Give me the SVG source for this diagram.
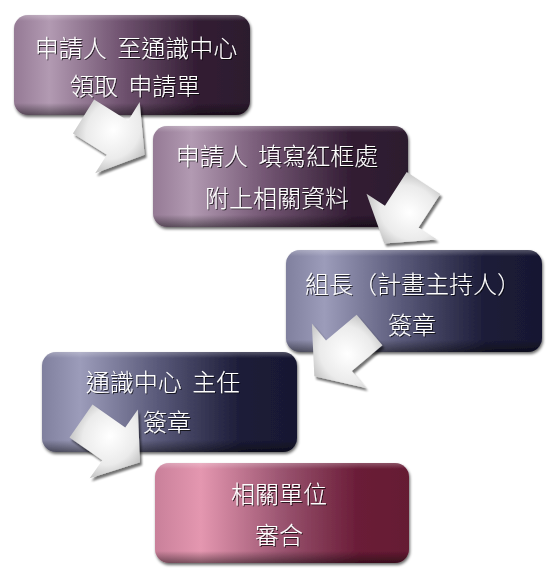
<svg xmlns="http://www.w3.org/2000/svg" width="550" height="583" viewBox="0 0 550 583">
<defs>
<linearGradient id="gPurple" x1="0" y1="0" x2="1" y2="0">
<stop offset="0" stop-color="#957a95"/>
<stop offset="0.15" stop-color="#b29ab2"/>
<stop offset="0.45" stop-color="#715471"/>
<stop offset="0.78" stop-color="#321c33"/>
<stop offset="1" stop-color="#2c1a2e"/>
</linearGradient>
<linearGradient id="gBlue" x1="0" y1="0" x2="1" y2="0">
<stop offset="0" stop-color="#80809e"/>
<stop offset="0.15" stop-color="#9c9cba"/>
<stop offset="0.45" stop-color="#5a5a7a"/>
<stop offset="0.78" stop-color="#1c1c38"/>
<stop offset="1" stop-color="#181832"/>
</linearGradient>
<linearGradient id="gPink" x1="0" y1="0" x2="1" y2="0">
<stop offset="0" stop-color="#c9809a"/>
<stop offset="0.18" stop-color="#e497b0"/>
<stop offset="0.5" stop-color="#9a5470"/>
<stop offset="0.8" stop-color="#6a1c37"/>
<stop offset="1" stop-color="#651a33"/>
</linearGradient>
<linearGradient id="gBevel" x1="0" y1="0" x2="0" y2="1">
<stop offset="0" stop-color="#ffffff" stop-opacity="0.25"/>
<stop offset="0.06" stop-color="#ffffff" stop-opacity="0"/>
<stop offset="0.88" stop-color="#000000" stop-opacity="0"/>
<stop offset="1" stop-color="#000000" stop-opacity="0.45"/>
</linearGradient>
<radialGradient id="gArrow" cx="0.45" cy="0.45" r="0.6">
<stop offset="0" stop-color="#ffffff"/>
<stop offset="0.6" stop-color="#ebebeb"/>
<stop offset="1" stop-color="#b8b8b8"/>
</radialGradient>
<filter id="boxShadow" x="-10%" y="-10%" width="120%" height="130%">
<feGaussianBlur in="SourceAlpha" stdDeviation="1.5"/>
<feOffset dx="1" dy="2" result="b"/>
<feComponentTransfer><feFuncA type="linear" slope="0.6"/></feComponentTransfer>
<feMerge><feMergeNode/><feMergeNode in="SourceGraphic"/></feMerge>
</filter>
<filter id="arrowShadow" x="-20%" y="-20%" width="150%" height="150%">
<feGaussianBlur in="SourceAlpha" stdDeviation="1.2"/>
<feOffset dx="2" dy="3"/>
<feComponentTransfer><feFuncA type="linear" slope="0.55"/></feComponentTransfer>
<feMerge><feMergeNode/><feMergeNode in="SourceGraphic"/></feMerge>
</filter>
<filter id="textShadow" x="-5%" y="-20%" width="110%" height="150%">
<feGaussianBlur in="SourceAlpha" stdDeviation="0.6"/>
<feOffset dx="1" dy="1"/>
<feComponentTransfer><feFuncA type="linear" slope="0.7"/></feComponentTransfer>
<feMerge><feMergeNode/><feMergeNode in="SourceGraphic"/></feMerge>
</filter>
<path id="arrowShape" d="M0,-20 L40,-20 L40,-42 L72,0 L40,42 L40,20 L0,20 Z"/>
</defs>
<style>
.lbl { font-family: "Noto Sans CJK TC", "Noto Sans", sans-serif; font-size: 24px; font-weight: 300; fill: #ffffff; text-anchor: middle; white-space: pre; }
.bev { fill: url(#gBevel); }
</style>

<g id="node1" filter="url(#boxShadow)">
<rect x="14" y="15" width="236" height="100" rx="14" fill="url(#gPurple)"/>
<rect x="14" y="15" width="236" height="100" rx="14" class="bev"/>
<g filter="url(#textShadow)">
<text class="lbl" x="136" y="57" xml:space="preserve">申請人  至通識中心</text>
<text class="lbl" x="135" y="95" xml:space="preserve">領取  申請單</text>
</g>
</g>

<g id="node2" filter="url(#boxShadow)">
<rect x="153" y="126" width="255" height="101" rx="14" fill="url(#gPurple)"/>
<rect x="153" y="126" width="255" height="101" rx="14" class="bev"/>
<g filter="url(#textShadow)">
<text class="lbl" x="277" y="165" xml:space="preserve">申請人  填寫紅框處</text>
<text class="lbl" x="277" y="207">附上相關資料</text>
</g>
</g>

<g id="node3" filter="url(#boxShadow)">
<rect x="286" y="250" width="256" height="102" rx="14" fill="url(#gBlue)"/>
<rect x="286" y="250" width="256" height="102" rx="14" class="bev"/>
<g filter="url(#textShadow)">
<text class="lbl" x="413" y="293">組長（計畫主持人）</text>
<text class="lbl" x="412" y="334">簽章</text>
</g>
</g>

<g id="node4" filter="url(#boxShadow)">
<rect x="42" y="352" width="255" height="100" rx="14" fill="url(#gBlue)"/>
<rect x="42" y="352" width="255" height="100" rx="14" class="bev"/>
<g filter="url(#textShadow)">
<text class="lbl" x="163" y="391" xml:space="preserve">通識中心  主任</text>
<text class="lbl" x="167" y="431">簽章</text>
</g>
</g>

<g id="node5" filter="url(#boxShadow)">
<rect x="155" y="463" width="254" height="100" rx="14" fill="url(#gPink)"/>
<rect x="155" y="463" width="254" height="100" rx="14" class="bev"/>
<g filter="url(#textShadow)">
<text class="lbl" x="279" y="503">相關單位</text>
<text class="lbl" x="279" y="544">審合</text>
</g>
</g>

<g id="connectors">
<g filter="url(#arrowShadow)"><use href="#arrowShape" fill="url(#gArrow)" transform="translate(83.5,116.5) rotate(32)"/></g>
<g filter="url(#arrowShadow)"><use href="#arrowShape" fill="url(#gArrow)" transform="translate(423.5,183) rotate(123)"/></g>
<g filter="url(#arrowShadow)"><use href="#arrowShape" fill="url(#gArrow)" transform="translate(369.5,330) rotate(140)"/></g>
<g filter="url(#arrowShadow)"><use href="#arrowShape" fill="url(#gArrow)" transform="translate(81,421) rotate(35)"/></g>
</g>
</svg>
